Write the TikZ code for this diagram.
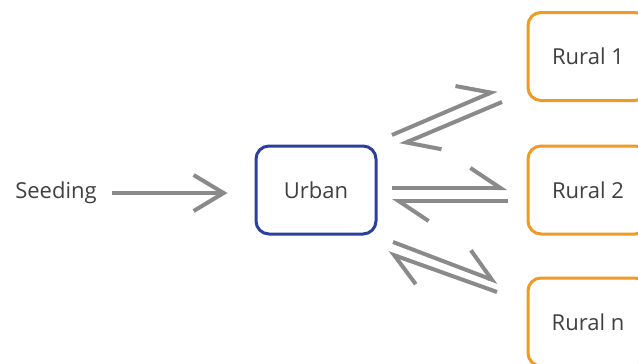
\documentclass[tikz,border=0pt]{standalone}
\usepackage{fontspec}
\setmainfont{Open Sans}
\usetikzlibrary{arrows.meta}
\definecolor{linegray}{HTML}{8A8A8A}
\definecolor{urbanblue}{HTML}{2B3F9E}
\definecolor{ruralorange}{HTML}{EE9B26}
\definecolor{textgray}{HTML}{404040}
\begin{document}
\begin{tikzpicture}[x=1pt,y=-1pt,
  lbl/.style={font=\fontsize{22}{24}\selectfont, text=textgray},
  urbanbox/.style={lbl, draw=urbanblue, line width=3pt, rounded corners=13pt,
    minimum width=120pt, minimum height=88pt, inner sep=0pt},
  ruralbox/.style={lbl, draw=ruralorange, line width=3pt, rounded corners=13pt,
    minimum width=120pt, minimum height=88pt, inner sep=0pt},
  fullarrow/.style={draw=linegray, line width=4pt,
    -{Straight Barb[length=30pt, width=36pt, line width=4pt]}},
  harp/.style={draw=linegray, line width=4pt,
    -{Straight Barb[left, length=30pt, width=40pt, line width=4pt]}}
]
\clip (0,0) rectangle (638,364);
\fill[white] (0,0) rectangle (638,364);

\node[lbl, inner sep=0pt] (seed) at (56,193) {Seeding};
\node[urbanbox] (urban) at (316,190) {Urban};
\node[ruralbox] (r1) at (588,56.5) {Rural 1};
\node[ruralbox] (r2) at (588,190) {Rural 2};
\node[ruralbox] (rn) at (588,322) {Rural n};

\draw[fullarrow, shorten <=15pt, shorten >=27pt] (seed.east) -- (seed.east -| urban.west);

% harpoon end points
\coordinate (a1) at (392,135); \coordinate (a2) at (497,90);
\coordinate (b1) at (502,102); \coordinate (b2) at (400,145);
\coordinate (c1) at (392,188); \coordinate (c2) at (507,188);
\coordinate (d1) at (508,201); \coordinate (d2) at (392,201);
\coordinate (e1) at (393,242); \coordinate (e2) at (498,282);
\coordinate (f1) at (497,292); \coordinate (f2) at (388,253);

\draw[harp] (a1) -- (a2);
\draw[harp] (b1) -- (b2);
\draw[harp] (c1) -- (c2);
\draw[harp] (d1) -- (d2);
\draw[harp] (e1) -- (e2);
\draw[harp] (f1) -- (f2);
\end{tikzpicture}
\end{document}
